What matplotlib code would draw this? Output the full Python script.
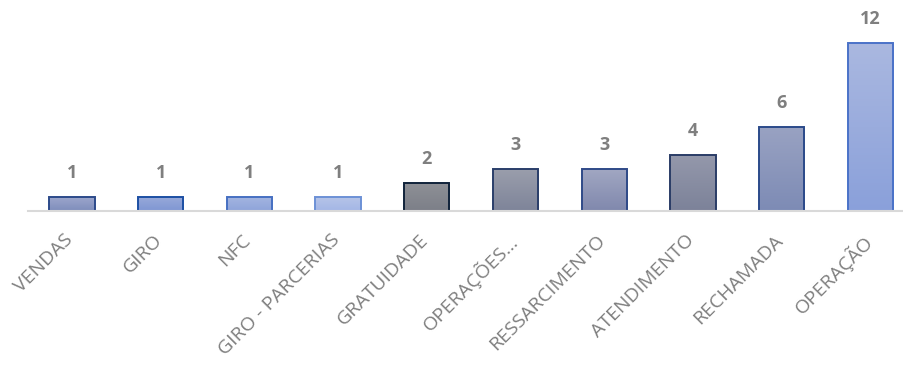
import numpy as np
import matplotlib
matplotlib.use("Agg")
import matplotlib.pyplot as plt
import matplotlib.transforms as mtransforms
from matplotlib.colors import LinearSegmentedColormap

plt.rcParams['font.family'] = ['Open Sans', 'DejaVu Sans']

categories = ["VENDAS", "GIRO", "NFC", "GIRO - PARCERIAS", "GRATUIDADE",
              "OPERAÇÕES...", "RESSARCIMENTO", "ATENDIMENTO", "RECHAMADA", "OPERAÇÃO"]
values = [1, 1, 1, 1, 2, 3, 3, 4, 6, 12]

# gradient (top, bottom) and edge colour per bar
top_colors = ["#9ba6cc", "#97a9d9", "#a3b4e0", "#b6c4e8", "#8e9096", "#9a9eac",
              "#a1a7c2", "#9498ab", "#99a2c2", "#aab8e0"]
bottom_colors = ["#7f8dbb", "#7f96d3", "#8ea4da", "#a3b6e6", "#7c7f88", "#7e8499",
                 "#8088ad", "#7c8299", "#7d8bb5", "#8aa0da"]
edge_colors = ["#2c4a8a", "#1c4fa3", "#4670c2", "#6c91d6", "#10233a", "#2a3e6a",
               "#2f4a88", "#2a3c66", "#2b4a8a", "#4a72c8"]

fig = plt.figure(figsize=(9.04, 3.65), dpi=100)
ax = fig.add_axes([28 / 904, 1 - 211 / 365, 876 / 904, 211 / 365])

x = np.arange(len(categories))
bars = ax.bar(x, values, width=0.51, color="none", edgecolor=edge_colors,
              linewidth=1.4, zorder=3)

grad = np.linspace(0, 1, 256).reshape(-1, 1)
for b, tc, bc in zip(bars, top_colors, bottom_colors):
    cmap = LinearSegmentedColormap.from_list("g", [bc, tc])
    x0, y0 = b.get_x(), b.get_y()
    w, h = b.get_width(), b.get_height()
    im = ax.imshow(grad, cmap=cmap, origin="lower", aspect="auto",
                   extent=[x0, x0 + w, y0, y0 + h], zorder=2)
    im.set_clip_path(b)

for xi, v in zip(x, values):
    ax.annotate(str(v), (xi, v), xytext=(0, 14), textcoords="offset points",
                ha="center", va="baseline", fontsize=13, fontweight="bold",
                color="#7f7f7f")

ax.set_xlim(-0.496, 9.38)
ax.set_ylim(0, 211 / 14)
ax.set_xticks(x)
ax.set_xticklabels(categories, rotation=45, ha="right", va="top",
                   rotation_mode="anchor", fontsize=14, color="#7f7f7f")
ax.tick_params(axis="x", length=0, pad=13)
shift = mtransforms.ScaledTranslation(-8 / 100, -2 / 100, fig.dpi_scale_trans)
for lbl in ax.get_xticklabels():
    lbl.set_transform(lbl.get_transform() + shift)
ax.set_yticks([])
for s in ["top", "right", "left"]:
    ax.spines[s].set_visible(False)
ax.spines["bottom"].set_color("#d9d9d9")
ax.spines["bottom"].set_linewidth(1.5)
ax.spines["bottom"].set_zorder(4)

fig.savefig("out.png", dpi=100)
